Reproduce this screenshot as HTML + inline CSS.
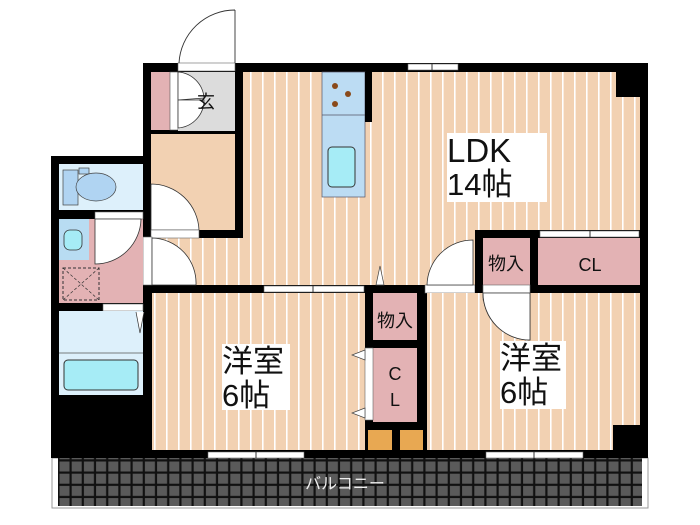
<!DOCTYPE html>
<html><head><meta charset="utf-8"><style>
html,body{margin:0;padding:0;background:#fff;width:700px;height:525px;overflow:hidden}
svg text{font-family:"Liberation Sans","Noto Sans CJK JP",sans-serif;fill:#111}
</style></head><body>
<svg width="700" height="525" viewBox="0 0 700 525" xmlns="http://www.w3.org/2000/svg">
<defs>
<pattern id="fl" x="0" y="0" width="12" height="10" patternUnits="userSpaceOnUse">
<rect width="12" height="10" fill="#f2d1b2"/><rect x="10" width="1.6" height="10" fill="#fff"/>
</pattern>
<pattern id="bal" x="58" y="460" width="12.2" height="12.2" patternUnits="userSpaceOnUse">
<rect width="12.2" height="12.2" fill="#111"/><rect x="1.5" y="1.5" width="10" height="10" fill="#5a5a5a"/>
</pattern>
</defs>
<rect x="52" y="458" width="596" height="50" fill="#fff" stroke="#999" stroke-width="1"/>
<rect x="58" y="458" width="584" height="48" fill="url(#bal)"/>
<text x="345" y="489" font-size="16" style="fill:#eee" text-anchor="middle">バルコニー</text>
<rect x="143" y="63" width="505" height="395" fill="#000"/>
<rect x="51" y="156" width="100" height="302" fill="#000"/>
<rect x="243" y="72" width="397" height="213" fill="url(#fl)"/>
<rect x="152" y="238" width="100" height="47" fill="url(#fl)"/>
<rect x="616" y="63" width="32" height="34" fill="#000"/>
<rect x="322" y="72" width="43" height="125" fill="#bcdcf3" stroke="#556" stroke-width="0.7"/>
<line x1="322" y1="115" x2="365" y2="115" stroke="#556" stroke-width="0.7"/>
<rect x="365" y="72" width="7" height="50" fill="#000"/>
<circle cx="335" cy="86" r="3" fill="#8a4a1a"/><circle cx="348" cy="94" r="3" fill="#8a4a1a"/><circle cx="335" cy="104" r="3" fill="#8a4a1a"/>
<rect x="328" y="147" width="27" height="40" rx="4" fill="#a6ecf6" stroke="#333" stroke-width="1"/>
<rect x="151" y="72" width="19" height="58" fill="#e3b2b4"/>
<rect x="170" y="72" width="8" height="58" fill="#fff" stroke="#555" stroke-width="0.6"/>
<rect x="178" y="72" width="57" height="59" fill="#dcdcdc"/>
<path d="M178 72 A28 28 0 0 1 204 98 L178 100 Z M178 128 A28 28 0 0 0 204 100 L178 100 Z" fill="#fff" stroke="#333" stroke-width="0.8"/>
<text x="197" y="108" font-size="18">玄</text>
<rect x="178" y="63" width="57" height="8" fill="#fff" stroke="#666" stroke-width="0.6"/>
<path d="M235 10 L235 63 M179 63 A56 56 0 0 1 235 10" fill="none" stroke="#333" stroke-width="0.9"/>
<rect x="151" y="134" width="84" height="96" fill="#f2d1b2"/>
<path d="M151 184 A48 48 0 0 1 199 230 L151 230 Z" fill="#fff" stroke="#333" stroke-width="0.8"/>
<rect x="151" y="230" width="48" height="8" fill="#fff" stroke="#666" stroke-width="0.6"/>
<rect x="143" y="237" width="9" height="48" fill="#fff" stroke="#666" stroke-width="0.6"/>
<path d="M152 238 A45 45 0 0 1 196 285 L152 285 Z" fill="#fff" stroke="#333" stroke-width="0.8"/>
<rect x="59" y="164" width="84" height="46" fill="#ddf0fb"/>
<rect x="63" y="170" width="15" height="35" fill="#b0d4f2" stroke="#444" stroke-width="0.7"/>
<rect x="79" y="168" width="10" height="6" fill="#b0d4f2" stroke="#444" stroke-width="0.7"/>
<ellipse cx="96" cy="187" rx="20" ry="14" fill="#b0d4f2" stroke="#444" stroke-width="0.7"/>
<rect x="59" y="219" width="84" height="84" fill="#e3b2b4"/>
<rect x="59" y="219" width="30" height="41" fill="#b8dcf2"/>
<rect x="64" y="230" width="18" height="20" rx="6" fill="#a6ecf6" stroke="#333" stroke-width="0.8"/>
<rect x="95" y="212" width="48" height="7" fill="#fff" stroke="#666" stroke-width="0.6"/>
<path d="M95 219 L95 264 A46 46 0 0 0 141 219 Z" fill="#fff" stroke="#333" stroke-width="0.8"/>
<rect x="63" y="268" width="36" height="32" fill="none" stroke="#333" stroke-width="1" stroke-dasharray="3,2"/>
<path d="M63 268 L99 300 M99 268 L63 300" stroke="#333" stroke-width="0.7" stroke-dasharray="3,2"/>
<rect x="103" y="304" width="40" height="7" fill="#fff" stroke="#666" stroke-width="0.6"/>
<rect x="59" y="311" width="84" height="84" fill="#ddf0fb"/>
<line x1="59" y1="353" x2="143" y2="353" stroke="#555" stroke-width="0.7"/>
<rect x="64" y="360" width="74" height="30" rx="4" fill="#a6ecf6" stroke="#333" stroke-width="1"/>
<path d="M136 312 L140 333 L144 312" fill="#fff" stroke="#333" stroke-width="0.7"/>
<rect x="152" y="293" width="213" height="157" fill="url(#fl)"/>
<rect x="264" y="286" width="100" height="6" fill="#fff" stroke="#666" stroke-width="0.6"/>
<line x1="313" y1="286" x2="313" y2="292" stroke="#333"/>
<rect x="208" y="452" width="96" height="6" fill="#fff" stroke="#666" stroke-width="0.6"/>
<line x1="256" y1="452" x2="256" y2="458" stroke="#333"/>
<rect x="373" y="293" width="44" height="47" fill="#e3b2b4"/>
<rect x="373" y="348" width="44" height="74" fill="#e3b2b4"/>
<rect x="365" y="348" width="8" height="72" fill="#fff" stroke="#666" stroke-width="0.6"/>
<path d="M365 350 L352 355 L365 360 Z M365 408 L352 413 L365 418 Z" fill="#fff" stroke="#444" stroke-width="0.7"/>
<path d="M376 285 L380 266 L384 285 Z" fill="#fff" stroke="#444" stroke-width="0.7"/>
<rect x="368" y="430" width="24" height="20" fill="#e8a852"/>
<rect x="400" y="430" width="23" height="20" fill="#e8a852"/>
<rect x="425" y="285" width="50" height="8" fill="#fff" stroke="#666" stroke-width="0.6"/>
<path d="M427 285 A46 46 0 0 1 473 240 L473 285 Z" fill="#fff" stroke="#333" stroke-width="0.8"/>
<text x="395" y="327" font-size="18" text-anchor="middle">物入</text>
<text x="395" y="380" font-size="18" text-anchor="middle">C</text>
<text x="395" y="406" font-size="18" text-anchor="middle">L</text>
<rect x="427" y="293" width="213" height="157" fill="url(#fl)"/>
<rect x="613" y="425" width="35" height="33" fill="#000"/>
<rect x="483" y="293" width="47" height="7" fill="#fff" stroke="#666" stroke-width="0.6"/>
<path d="M483 293 A47 47 0 0 0 530 340 L530 293 Z" fill="#fff" stroke="#333" stroke-width="0.8"/>
<rect x="486" y="452" width="97" height="6" fill="#fff" stroke="#666" stroke-width="0.6"/>
<line x1="534" y1="452" x2="534" y2="458" stroke="#333"/>
<!-- storage walls -->
<rect x="475" y="230" width="173" height="63" fill="#000"/>
<rect x="483" y="238" width="47" height="47" fill="#e3b2b4"/>
<rect x="538" y="238" width="102" height="47" fill="#e3b2b4"/>
<rect x="540" y="231" width="99" height="6" fill="#fff" stroke="#666" stroke-width="0.6"/>
<line x1="590" y1="231" x2="590" y2="237" stroke="#333"/>
<rect x="483" y="285" width="47" height="8" fill="#fff" stroke="#666" stroke-width="0.6"/>
<path d="M483 293 A47 47 0 0 0 530 340 L530 293 Z" fill="#fff" stroke="#333" stroke-width="0.8"/>
<text x="506" y="270" font-size="18" text-anchor="middle">物入</text>
<text x="590" y="271" font-size="18" text-anchor="middle">CL</text>
<rect x="408" y="64" width="50" height="6" fill="#fff" stroke="#666" stroke-width="0.6"/>
<line x1="432" y1="64" x2="432" y2="70" stroke="#333"/>
<rect x="447" y="133" width="100" height="69" fill="#fff"/>
<text x="447" y="162" font-size="33">LDK</text>
<text x="447" y="195" font-size="31">14帖</text>
<rect x="222" y="344" width="68" height="66" fill="#fff"/>
<text x="222" y="372" font-size="31">洋室</text>
<text x="222" y="406" font-size="31">6帖</text>
<rect x="500" y="341" width="66" height="68" fill="#fff"/>
<text x="500" y="369" font-size="31">洋室</text>
<text x="500" y="403" font-size="31">6帖</text>
</svg>
</body></html>
